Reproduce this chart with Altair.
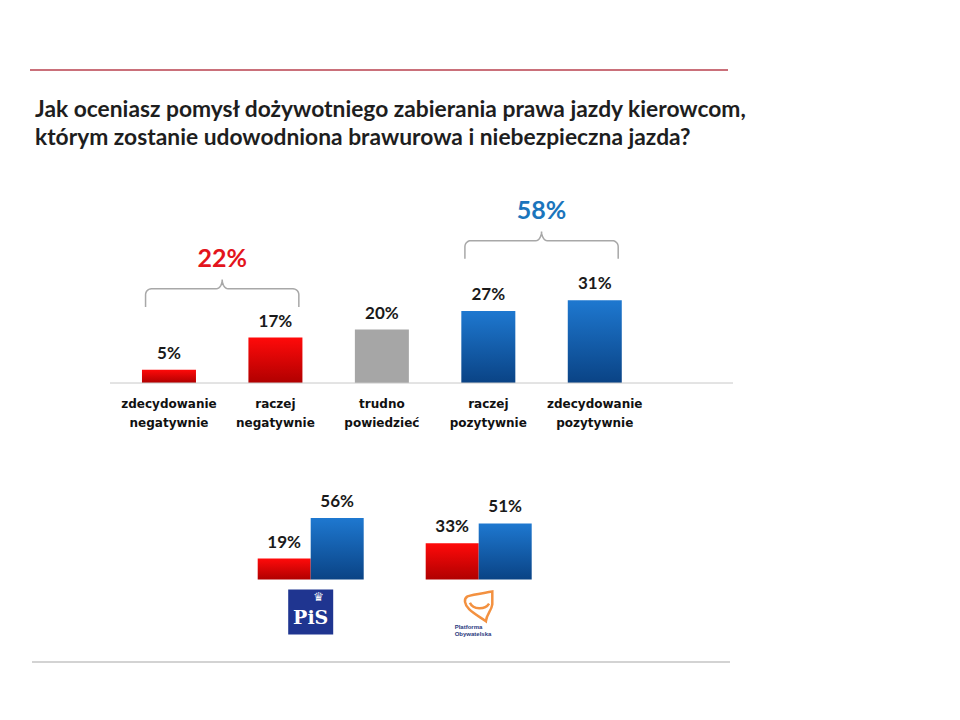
import altair as alt
import numpy as np
import pandas as pd

# ---------------- data ----------------
title_lines = [
    "Jak oceniasz pomysł dożywotniego zabierania prawa jazdy kierowcom,",
    "którym zostanie udowodniona brawurowa i niebezpieczna jazda?",
]
cat_line1 = ["zdecydowanie", "raczej", "trudno", "raczej", "zdecydowanie"]
cat_line2 = ["negatywnie", "negatywnie", "powiedzieć", "pozytywnie", "pozytywnie"]
values = [5, 17, 20, 27, 31]
tone = ["neg", "neg", "neutral", "pos", "pos"]

group_members = [[0, 1], [3, 4]]
group_totals = [22, 58]
group_tone = ["neg", "pos"]

parties = ["PiS", "PO"]
party_neg = [19, 33]
party_pos = [56, 51]
po_logo_text = ["Platforma", "Obywatelska"]

# ---------------- layout / style constants ----------------
W, H = 944, 704
FONT = "Lato"
RED_GRAD = alt.LinearGradient(gradient="linear", x1=0, x2=0, y1=0, y2=1,
                              stops=[alt.GradientStop(color="#ff0a0a", offset=0),
                                     alt.GradientStop(color="#b00000", offset=1)])
BLUE_GRAD = alt.LinearGradient(gradient="linear", x1=0, x2=0, y1=0, y2=1,
                               stops=[alt.GradientStop(color="#1e78d0", offset=0),
                                      alt.GradientStop(color="#0a4385", offset=1)])
GRAY = "#a6a6a6"
TONE_TEXT = {"neg": "#e3141c", "pos": "#1b75bc"}

X_MAIN = alt.Scale(domain=[-0.5, 4.5], range=[102.75, 645], nice=False, zero=False)
Y_MAIN = alt.Scale(domain=[0, 100], range=[375, 108], nice=False)
BRACE_BOTTOM = [28.5, 46.5]     # y-level (in % units) of brace ends

X_BOT = alt.Scale(domain=parties, range=[249.7, 523.7], paddingInner=62 / 168, paddingOuter=0)
XO_BOT = alt.Scale(domain=["neg", "pos"], paddingInner=0, paddingOuter=0)
Y_BOT = alt.Scale(domain=[0, 100], range=[571.5, 461.5], nice=False)

# ---------------- main chart ----------------
main_df = pd.DataFrame({
    "idx": list(range(len(values))),
    "l1": cat_line1,
    "l2": cat_line2,
    "value": values,
    "tone": tone,
    "lab": [f"{v}%" for v in values],
})

xm = alt.X("idx:Q", scale=X_MAIN, axis=None)
ym = alt.Y("value:Q", scale=Y_MAIN, axis=None)

base_main = alt.Chart(main_df)
bars_neg = base_main.transform_filter(alt.datum.tone == "neg").mark_bar(size=54, color=RED_GRAD).encode(x=xm, y=ym)
bars_neu = base_main.transform_filter(alt.datum.tone == "neutral").mark_bar(size=54, color=GRAY).encode(x=xm, y=ym)
bars_pos = base_main.transform_filter(alt.datum.tone == "pos").mark_bar(size=54, color=BLUE_GRAD).encode(x=xm, y=ym)

val_text = base_main.mark_text(dy=-16, baseline="middle", fontSize=17, fontWeight="bold",
                               font=FONT, color="#1a1a1a").encode(x=xm, y=ym, text="lab:N")
cat1 = base_main.mark_text(baseline="middle", fontSize=12, fontWeight="bold",
                           font="DejaVu Sans", color="#111111").encode(x=xm, y=alt.value(396), text="l1:N")
cat2 = base_main.mark_text(baseline="middle", fontSize=12, fontWeight="bold",
                           font="DejaVu Sans", color="#111111").encode(x=xm, y=alt.value(415), text="l2:N")

baseline = alt.Chart(pd.DataFrame({"v": [0]})).mark_rule(color="#c8c8c8", strokeWidth=1).encode(
    x=alt.value(102), x2=alt.value(725), y=alt.Y("v:Q", scale=Y_MAIN, axis=None))

# braces (computed geometry)
rx = 6 / 108.5
ry_c, ry_p, rise = 2.25, 3.4, 6.8
brace_rows, brace_lab = [], []
for g, (mem, yb) in enumerate(zip(group_members, BRACE_BOTTOM)):
    a, b = min(mem) - 0.22, max(mem) + 0.22
    m = (a + b) / 2
    yh = yb + rise
    yp = yh + ry_p
    pts = [(a, yb)]
    for t in np.linspace(np.pi, np.pi / 2, 8):
        pts.append((a + rx + rx * np.cos(t), yh - ry_c + ry_c * np.sin(t)))
    for t in np.linspace(-np.pi / 2, 0, 8):
        pts.append((m - rx + rx * np.cos(t), yp + ry_p * np.sin(t)))
    left = pts[:]
    right = [(2 * m - x, y) for (x, y) in reversed(left)]
    pts = left + right[1:]
    for o, (x, y) in enumerate(pts):
        brace_rows.append({"g": g, "o": o, "x": x, "y": y})
    brace_lab.append({"x": m, "y": yp + 7.7, "lab": f"{group_totals[g]}%", "tone": group_tone[g]})

brace_df = pd.DataFrame(brace_rows)
brace_lab_df = pd.DataFrame(brace_lab)
braces = alt.Chart(brace_df).mark_line(color="#a8a8a8", strokeWidth=1.5).encode(
    x=alt.X("x:Q", scale=X_MAIN, axis=None), y=alt.Y("y:Q", scale=Y_MAIN, axis=None),
    detail="g:N", order="o:Q")
brace_texts = []
for tn, col in TONE_TEXT.items():
    brace_texts.append(
        alt.Chart(brace_lab_df).transform_filter(alt.datum.tone == tn).mark_text(
            fontSize=25, fontWeight="bold", font=FONT, color=col, baseline="middle").encode(
            x=alt.X("x:Q", scale=X_MAIN, axis=None), y=alt.Y("y:Q", scale=Y_MAIN, axis=None),
            text="lab:N"))

main = alt.layer(bars_neg, bars_neu, bars_pos, baseline, val_text, cat1, cat2, braces, *brace_texts)

# ---------------- bottom (party) chart ----------------
bot_df = pd.DataFrame({
    "party": parties * 2,
    "series": ["neg"] * len(parties) + ["pos"] * len(parties),
    "value": party_neg + party_pos,
})
bot_df["lab"] = bot_df["value"].astype(str) + "%"

xb = alt.X("party:N", scale=X_BOT, axis=None)
xob = alt.XOffset("series:N", scale=XO_BOT)
yb_enc = alt.Y("value:Q", scale=Y_BOT, axis=None)
base_bot = alt.Chart(bot_df)
bb_neg = base_bot.transform_filter(alt.datum.series == "neg").mark_bar(color=RED_GRAD).encode(x=xb, xOffset=xob, y=yb_enc)
bb_pos = base_bot.transform_filter(alt.datum.series == "pos").mark_bar(color=BLUE_GRAD).encode(x=xb, xOffset=xob, y=yb_enc)
bb_txt = base_bot.mark_text(dy=-16, baseline="middle", fontSize=17, fontWeight="bold",
                            font=FONT, color="#1a1a1a").encode(x=xb, xOffset=xob, y=yb_enc, text="lab:N")

logo_df = pd.DataFrame({"party": parties})
pis_sq = alt.Chart(logo_df).transform_filter(alt.datum.party == "PiS").mark_square(
    size=45 * 45, color="#1f3590", opacity=1).encode(x=xb, y=alt.value(604))
pis_txt = alt.Chart(logo_df).transform_filter(alt.datum.party == "PiS").mark_text(
    fontSize=19, fontWeight="bold", font="DejaVu Serif", color="white", baseline="middle", dy=1).encode(
    x=xb, y=alt.value(609), text="party:N")
pis_crown = alt.Chart(logo_df).transform_filter(alt.datum.party == "PiS").mark_text(
    fontSize=12, font="DejaVu Sans", color="white", baseline="middle", dx=8, text="♛").encode(
    x=xb, y=alt.value(589))

PO_PATH = ("M -0.7 -0.6 C -0.3 -0.75 0.3 -0.8 0.85 -0.9 L 0.85 -0.1 "
           "C 0.8 0.3 0.5 0.5 0.45 0.95 C 0.1 0.7 -0.3 0.5 -0.6 0.2 "
           "C -0.9 -0.1 -0.95 -0.45 -0.7 -0.6 Z "
           "M -0.55 -0.2 C -0.35 0.25 0.4 0.25 0.65 -0.15")
po_shape = alt.Chart(logo_df).transform_filter(alt.datum.party == "PO").mark_point(
    shape=PO_PATH, size=1024, filled=False, strokeWidth=2.5, color="#f39140", opacity=1, dx=-4).encode(
    x=xb, y=alt.value(598))
po_txt = []
for i, t in enumerate(po_logo_text):
    po_txt.append(alt.Chart(logo_df).transform_filter(alt.datum.party == "PO").mark_text(
        fontSize=6, fontWeight="bold", font="Liberation Sans", color="#2b3a80", align="left",
        baseline="middle", dx=-24, text=t).encode(x=xb, y=alt.value(619 + 7 * i)))

bottom = alt.layer(bb_neg, bb_pos, bb_txt, pis_sq, pis_txt, pis_crown, po_shape, *po_txt)

# ---------------- decorations & title ----------------
one = pd.DataFrame({"k": [0]})
top_line = alt.Chart(one).mark_rule(color="#b8404e", strokeWidth=1.5).encode(
    x=alt.value(22), x2=alt.value(720), y=alt.value(62))
bot_line = alt.Chart(one).mark_rule(color="#c4c4c4", strokeWidth=1.5).encode(
    x=alt.value(24), x2=alt.value(722), y=alt.value(654))
title_df = pd.DataFrame({"t1": [title_lines[0]], "t2": [title_lines[1]]})
t1 = alt.Chart(title_df).mark_text(align="left", baseline="middle", fontSize=22.8, fontWeight="bold",
                                   font=FONT, color="#1e1e1e").encode(
    x=alt.value(27), y=alt.value(102), text="t1:N")
t2 = alt.Chart(title_df).mark_text(align="left", baseline="middle", fontSize=22.8, fontWeight="bold",
                                   font=FONT, color="#1e1e1e").encode(
    x=alt.value(27), y=alt.value(130), text="t2:N")
deco = alt.layer(top_line, bot_line, t1, t2)

chart = alt.layer(main, bottom, deco).resolve_scale(
    x="independent", y="independent"
).properties(
    width=W, height=H, autosize="none", padding=0, background="white"
).configure_view(stroke=None)

chart.save("out.html", embed_options={"renderer": "svg", "actions": False})
